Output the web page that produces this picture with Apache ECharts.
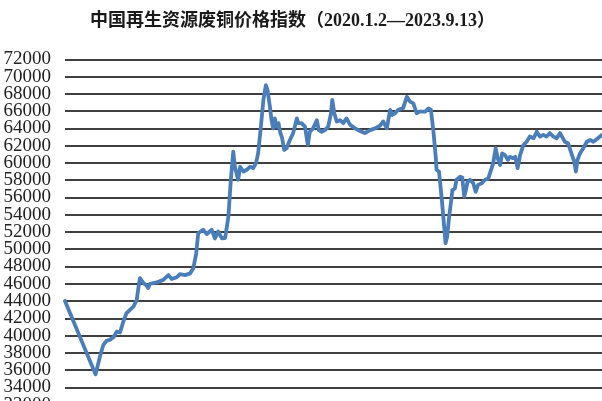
<!DOCTYPE html>
<html>
<head>
<meta charset="utf-8">
<script src="https://cdn.jsdelivr.net/npm/echarts@6/dist/echarts.min.js"></script>
<style>
html,body{margin:0;padding:0;background:#fff;}
#chart{width:602px;height:401px;}
</style>
</head>
<body>
<div id="chart"></div>
<script>
var titleText = '中国再生资源废铜价格指数（2020.1.2—2023.9.13）';
var yTicks = {min: 32000, max: 72000, interval: 2000};
var yLabelsEven = [32000, 36000, 40000, 44000, 48000, 52000, 56000, 60000, 64000, 68000, 72000];
var yLabelsOdd = [34000, 38000, 42000, 46000, 50000, 54000, 58000, 62000, 66000, 70000];
var startDate = '2020-01-02';
var endDate = '2023-09-13';

var dates = [
'2020-01-02','2020-03-17','2020-03-28','2020-04-05','2020-04-13','2020-04-21','2020-04-30','2020-05-08','2020-05-16','2020-05-24',
'2020-06-01','2020-06-10','2020-06-18','2020-06-26','2020-06-30','2020-07-04','2020-07-12','2020-07-19','2020-07-24','2020-07-29',
'2020-08-14','2020-08-30','2020-09-12','2020-09-20','2020-10-02','2020-10-10','2020-10-23','2020-11-04','2020-11-12','2020-11-19',
'2020-11-24','2020-12-06','2020-12-15','2020-12-27','2021-01-04','2021-01-12','2021-01-21','2021-01-29','2021-02-06','2021-02-12',
'2021-02-18','2021-02-22','2021-03-02','2021-03-07','2021-03-15','2021-03-23','2021-03-31','2021-04-08','2021-04-15','2021-04-20',
'2021-04-26','2021-05-03','2021-05-09','2021-05-13','2021-05-19','2021-05-23','2021-05-27','2021-05-31','2021-06-04','2021-06-09',
'2021-06-13','2021-06-18','2021-06-23','2021-06-29','2021-07-07','2021-07-15','2021-07-24','2021-07-28','2021-08-05','2021-08-13',
'2021-08-20','2021-08-25','2021-09-02','2021-09-11','2021-09-16','2021-09-23','2021-10-01','2021-10-09','2021-10-16','2021-10-19',
'2021-10-24','2021-10-30','2021-11-07','2021-11-15','2021-11-23','2021-12-02','2021-12-14','2021-12-26','2022-01-07','2022-01-20',
'2022-02-01','2022-02-13','2022-02-21','2022-03-02','2022-03-10','2022-03-15','2022-03-22','2022-03-30','2022-04-11','2022-04-20',
'2022-04-28','2022-05-06','2022-05-14','2022-05-22','2022-06-04','2022-06-12','2022-06-18','2022-06-24','2022-06-30','2022-07-02',
'2022-07-08','2022-07-15','2022-07-20','2022-07-24','2022-07-28','2022-08-02','2022-08-06','2022-08-10','2022-08-16','2022-08-20',
'2022-08-29','2022-09-03','2022-09-08','2022-09-12','2022-09-16','2022-09-22','2022-09-30','2022-10-06','2022-10-12','2022-10-21',
'2022-10-29','2022-11-06','2022-11-10','2022-11-18','2022-11-24','2022-11-29','2022-12-05','2022-12-10','2022-12-17','2022-12-24',
'2022-12-29','2023-01-06','2023-01-11','2023-01-17','2023-01-23','2023-01-31','2023-02-08','2023-02-16','2023-02-25','2023-03-05',
'2023-03-13','2023-03-21','2023-03-29','2023-04-06','2023-04-15','2023-04-23','2023-05-01','2023-05-05','2023-05-13','2023-05-21',
'2023-05-29','2023-06-05','2023-06-09','2023-06-13','2023-06-19','2023-06-27','2023-07-06','2023-07-14','2023-07-22','2023-07-30',
'2023-08-07','2023-08-12','2023-08-25','2023-09-13'
];

var values = [
44000,35500,37600,38900,39400,39500,39800,40450,40350,41600,
42600,43000,43350,44100,45500,46650,46100,45850,45500,46000,
46150,46450,47000,46550,46750,47100,47000,47200,47800,49500,
51850,52250,51750,52250,51250,52050,51250,51300,53750,58000,
61300,59550,58050,59550,59000,59200,59550,59400,60000,61100,
63800,67300,69000,68450,66500,64950,64000,65150,64200,64600,
63600,62850,61500,61700,62650,63450,65150,64600,64600,64200,
62100,63600,64000,64950,63800,63600,63800,64200,65750,67300,
65750,64800,64950,64600,65150,64400,64000,63700,63450,63800,
64000,64300,64800,64000,66150,65550,65750,66150,66350,67650,
67100,66900,65750,65950,65950,66300,66150,63800,60700,59200,
59000,55700,53000,50700,51450,53800,55300,56850,57050,58050,
58400,58300,56100,56850,57800,58050,57650,56650,57450,57650,
58050,58200,58050,59950,61700,60550,59750,61100,60900,60350,
60700,60550,60700,59400,60900,62050,62450,63050,62850,63600,
63050,63250,63050,63450,63050,62850,63450,63500,62450,62250,
61100,60150,59000,60350,61100,61700,62450,62650,62450,62750,
63050,63250,63300,63200
];

var seriesData = dates.map(function(d, i){ return [d, values[i]]; });

var labelStyle = {
  margin: 14,
  hideOverlap: false,
  showMinLabel: true,
  showMaxLabel: true,
  formatter: function(v){ return String(v); },
  fontFamily: "'Liberation Serif', serif",
  fontSize: 19,
  color: '#222'
};

function makeYAxis(labelValues, withSplit) {
  return {
    type: 'value',
    position: 'left',
    min: yTicks.min,
    max: yTicks.max,
    interval: yTicks.interval,
    axisLine: {show: false},
    axisTick: {show: false},
    axisLabel: Object.assign({customValues: labelValues}, labelStyle),
    splitLine: withSplit
      ? {show: true, showMaxLine: true, showMinLine: true, lineStyle: {color: '#000', width: 1.5}}
      : {show: false}
  };
}

var chart = echarts.init(document.getElementById('chart'), null, {renderer: 'canvas'});
chart.setOption({
  animation: false,
  backgroundColor: '#ffffff',
  title: {
    text: titleText,
    left: 85,
    top: 7,
    textStyle: {
      fontFamily: "'Liberation Serif', 'Noto Sans CJK SC', serif",
      fontSize: 18,
      fontWeight: 'bold',
      color: '#1a1a1a'
    }
  },
  grid: {left: 65, top: 59.3, width: 550, height: 345.3, outerBoundsMode: 'none', containLabel: false},
  xAxis: {
    type: 'time',
    min: startDate,
    max: endDate,
    axisLine: {show: false},
    axisTick: {show: false},
    axisLabel: {show: false},
    splitLine: {show: false}
  },
  yAxis: [makeYAxis(yLabelsEven, true), makeYAxis(yLabelsOdd, false)],
  series: [{
    type: 'line',
    data: seriesData,
    yAxisIndex: 0,
    showSymbol: false,
    symbol: 'none',
    lineStyle: {color: '#4a7ebb', width: 3.8, join: 'round', cap: 'round'},
    clip: true
  }]
});
</script>
</body>
</html>
